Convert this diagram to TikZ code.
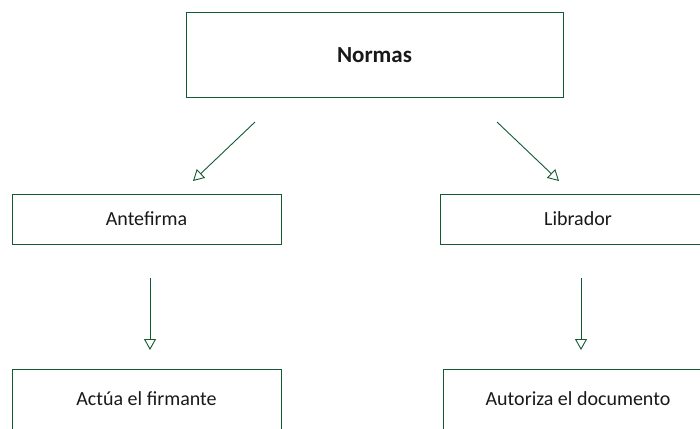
\documentclass[tikz,border=0pt]{standalone}
\usepackage{fontspec}
\setmainfont{Carlito}
\usetikzlibrary{arrows.meta}
\definecolor{edge}{RGB}{20,90,50}
\tikzset{
  box/.style={draw=edge, line width=1pt, rectangle, inner sep=0pt, font=\fontsize{20}{24}\selectfont, text=black!90},
  conn/.style={draw=edge, line width=0.9pt, -{Triangle[open, length=11pt, width=12pt]}},
}
\begin{document}
\begin{tikzpicture}[x=1pt, y=-1pt]
\clip (0,0) rectangle (700,428);
\fill[white] (0,0) rectangle (700,428);
\node[box, minimum width=377pt, minimum height=84pt, font=\fontsize{23}{27}\selectfont\bfseries] (normas) at (374.5,55) {Normas};
\node[box, minimum width=269pt, minimum height=50pt] (ante) at (146.5,219) {Antefirma};
\node[box, minimum width=276pt, minimum height=50pt] (libr) at (578,219) {Librador};
\node[box, minimum width=269pt, minimum height=60pt] (actua) at (146.5,399) {Actúa el firmante};
\node[box, minimum width=270pt, minimum height=60pt] (auto) at (578,399) {Autoriza el documento};
\coordinate (s1) at (255,122); \coordinate (e1) at (193,181);
\coordinate (s2) at (497,122); \coordinate (e2) at (559,181);
\coordinate (s3) at (150,278); \coordinate (e3) at (150,350);
\coordinate (s4) at (581,278); \coordinate (e4) at (581,350);
\draw[conn] (s1) -- (e1);
\draw[conn] (s2) -- (e2);
\draw[conn] (s3) -- (e3);
\draw[conn] (s4) -- (e4);
\end{tikzpicture}
\end{document}
